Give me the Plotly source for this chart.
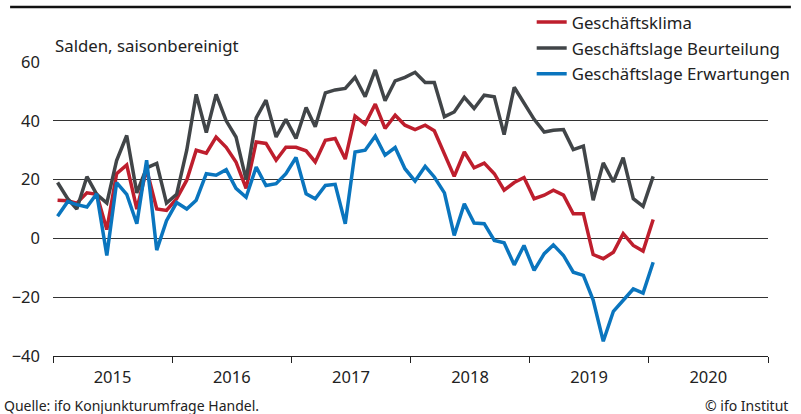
import pandas as pd
import plotly.graph_objects as go

# Monthly data Jan 2015 .. Jan 2020
klima = [13, 12.8, 12, 15.5, 15, 3, 22, 25, 10, 23.5, 10, 9.5,
         13.5, 19.8, 30, 29, 34.5, 31, 26, 17, 32.8, 32.3, 26.6, 31,
         31, 29.8, 26, 33.4, 34, 27, 41.6, 38.9, 45.7, 37.4, 41.9, 38.5,
         37, 38.5, 36.6, 28.9, 21.1, 29.4, 24, 25.6, 22, 16.4, 19, 20.7,
         13.5, 14.7, 16.4, 14.7, 8.4, 8.4, -5.5, -6.9, -4.7, 1.6, -2.4, -4.3,
         6.4]
lage = [19, 13.5, 10, 21, 15, 12, 26.5, 35, 15.5, 24, 25.5, 12,
        15, 30, 49, 36, 49, 40, 34.5, 20, 41, 47, 34.5, 40.5,
        34, 44.5, 38, 49.5, 50.5, 51, 54.8, 48.2, 57.3, 46.8, 53.6, 54.8,
        56.5, 53, 53, 41.4, 43, 48, 44.2, 48.7, 48.2, 35.3, 51.4, 46,
        40.5, 36.2, 36.8, 37, 30.2, 31.4, 13, 25.7, 19.2, 27.5, 13.5, 10.9,
        21.1]
erwart = [7.5, 12.5, 11.5, 10.7, 15.2, -5.8, 19, 15, 5, 26.6, -4, 6,
          12.2, 10, 13, 22, 21.5, 23.4, 17, 14, 24.3, 18, 18.6, 22,
          27.5, 15.2, 13.5, 18, 18.4, 5, 29.4, 30, 34.8, 28.3, 30.9, 23.7,
          19.5, 24.5, 20.9, 15.5, 1, 11.8, 5.2, 5, -0.7, -1.5, -9, -2.4,
          -10.9, -5.2, -2.2, -5.8, -11.5, -12.6, -21, -35, -24.8, -21.1, -17.2, -18.6,
          -8.1]
names = ["Geschäftsklima", "Geschäftslage Beurteilung", "Geschäftslage Erwartungen"]
colors = ["#be1e2d", "#414548", "#0a75be"]
y_ticks = [-40, -20, 0, 20, 40, 60]

months = pd.date_range("2015-01-01", periods=len(klima), freq="MS") + pd.Timedelta(days=14)

FONT = "Noto Sans"
TXT = "#222"
fig = go.Figure()
for i, (nm, vals, col) in enumerate(zip(names, [klima, lage, erwart], colors)):
    fig.add_trace(go.Scatter(x=months, y=vals, mode="lines", name=nm,
                             legendgroup=f"g{i}",
                             line=dict(color=col, width=3.5)))

fig.update_layout(
    width=801, height=414,
    margin=dict(l=53, r=33, t=7, b=58, autoexpand=False),
    paper_bgcolor="white", plot_bgcolor="white",
    font=dict(family=FONT, size=16, color=TXT),
    showlegend=True,
    legend=dict(x=0.6695, y=1.0066, xanchor="left", yanchor="top",
                bgcolor="rgba(0,0,0,0)", borderwidth=0, tracegroupgap=1,
                font=dict(family=FONT, size=16.8, color=TXT),
                itemwidth=30),
    xaxis=dict(range=["2015-01-01", "2021-01-01"], type="date",
               dtick="M12", tick0="2015-01-01", tickformat="%Y",
               ticklabelmode="period", ticks="outside", ticklen=6,
               tickcolor=TXT, showgrid=False, showline=True,
               linecolor=TXT, linewidth=1.2,
               tickfont=dict(size=16.5, color=TXT)),
    yaxis=dict(range=[-40, 60], domain=[0, 294 / 349], tickvals=y_ticks,
               showgrid=True, gridcolor="#333", gridwidth=1, zeroline=False,
               showline=False, ticks="", ticklabelstandoff=12,
               tickfont=dict(size=16.5, color=TXT)),
)

fig.add_annotation(text="Salden, saisonbereinigt", xref="paper", yref="y domain",
                   x=0, y=1, xanchor="left", yanchor="bottom", yshift=3,
                   showarrow=False, font=dict(size=16.8, color=TXT))
fig.add_annotation(text="Quelle: ifo Konjunkturumfrage Handel.", xref="paper", yref="y domain",
                   x=-0.0713, y=-0.167, xanchor="left", yanchor="middle",
                   showarrow=False, font=dict(size=14, color=TXT))
fig.add_annotation(text="© ifo Institut", xref="paper", yref="y domain",
                   x=1.031, y=-0.167, xanchor="right", yanchor="middle",
                   showarrow=False, font=dict(size=14, color=TXT))
# top rule
fig.add_shape(type="line", xref="paper", yref="paper",
              x0=-0.060, x1=1.032, y0=1.0, y1=1.0,
              line=dict(color="#111", width=2.5))
# legend area masks the 60 gridline on the right
fig.add_shape(type="rect", xref="paper", yref="y", layer="above",
              x0=0.671, x1=1.0, y0=59, y1=61,
              fillcolor="white", line=dict(width=0))

fig.write_html("out.html", config={"displayModeBar": False},
               post_script="document.body.style.margin='0';")
